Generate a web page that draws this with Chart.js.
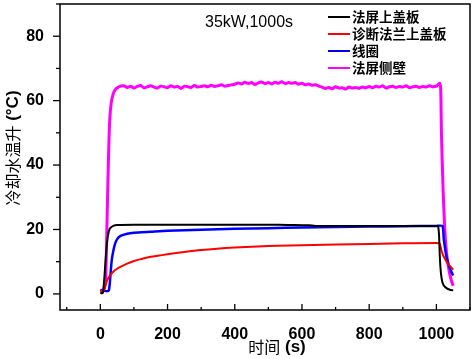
<!DOCTYPE html>
<html><head><meta charset="utf-8">
<script src="https://cdn.jsdelivr.net/npm/chart.js@4/dist/chart.umd.min.js"></script>
<style>html,body{margin:0;padding:0;background:#fff}#wrap{width:476px;height:359px}</style>
</head><body><div id="wrap"><canvas id="c" width="476" height="359"></canvas></div>
<script>
const seriesNames = ['法屏上盖板','诊断法兰上盖板','线圈','法屏侧壁'];
const seriesColors = ['#000000','#ff0000','#0000ff','#ff00ff'];
const xTickValues = [0,200,400,600,800,1000];
const yTickValues = [0,20,40,60,80];

const blackTime = [0,5,8,12,16,20,25,30,40,50,100,200,300,400,500,560,620,640,700,800,900,1000,1005,1008,1010,1013,1017,1022,1030,1040,1050];
const blackVal  = [0.3,0.2,0.5,5,11,16,19.3,20.5,21.2,21.4,21.5,21.5,21.5,21.5,21.5,21.4,21.3,21.1,21.1,21.1,21.1,21.1,21.1,18,12,7,4,2.6,1.8,1.3,1.1];

const redTime = [0,10,14,18,22,27,33,40,50,66,80,100,125,150,175,200,250,300,400,500,600,700,800,900,1000,1010,1015,1020,1025,1030,1040,1050];
const redVal  = [1.0,1.0,2.0,3.5,4.6,5.4,6.2,7.0,7.8,8.7,9.4,10.2,10.9,11.5,11.9,12.3,13.0,13.6,14.4,14.9,15.1,15.3,15.5,15.7,15.8,15.6,13.5,12,11,10,8.7,7.5];

const blueTime = [0,10,20,25,28,31,34,38,43,50,60,80,100,150,200,300,400,500,600,700,800,900,1000,1018,1022,1026,1030,1035,1040,1045,1050];
const blueVal  = [1.2,1.0,0.8,1,3,7,10.5,13,15.3,17,18,18.7,19.0,19.3,19.6,19.9,20.2,20.4,20.6,20.8,20.9,21.0,21.1,21.1,17,14,11.5,9.5,8,6.8,5.7];

const magTime = [0,5,8,12,16,19,22,25,28,32,38,45,55,
 70,80,90,100,110,120,130,140,150,160,170,180,190,200,210,220,230,240,250,260,270,280,290,300,
 310,320,330,340,350,360,370,380,390,
 400,410,420,430,440,450,460,470,480,490,500,510,520,530,540,550,560,570,
 580,590,600,610,620,630,640,650,
 660,670,680,690,700,710,720,730,740,750,760,770,780,790,
 800,810,820,830,840,850,860,870,880,890,900,910,920,930,940,950,960,970,980,990,1000,1010,
 1013,1015,1020,1025,1030,1035,1040,1045,1050];
const magVal = [0.8,0.8,1.0,2,5,18,32,45,54,59,62,63.5,64.3,
 64.6,64.1,64.5,63.9,64.4,64.7,64.0,64.3,64.6,64.2,63.9,64.5,64.3,64.0,64.6,64.2,64.4,63.8,64.5,64.3,64.1,64.7,64.2,64.4,
 64.6,64.3,64.8,64.4,64.6,64.9,64.5,64.7,64.9,
 65.1,65.5,65.2,65.7,65.3,65.6,65.0,65.5,65.8,65.3,65.6,65.2,65.7,65.4,65.9,65.3,65.6,65.4,
 65.6,65.1,65.4,64.9,65.2,64.8,64.9,64.5,
 64.2,63.8,64.1,63.7,64.3,63.9,64.0,63.6,64.2,63.9,64.1,63.8,64.2,64.0,
 64.4,64.0,64.5,64.2,64.6,63.9,64.3,64.5,64.1,64.4,64.2,64.6,64.0,64.3,64.5,64.1,64.4,64.2,64.6,64.3,64.5,65.4,
 63,50,32,20,13,9,6,4,2.5];

function pts(t,v){return t.map((x,i)=>({x:x,y:v[i]}));}

const CJK = '"Noto Sans CJK SC", sans-serif';
const LAT = '"Liberation Sans", Arial, sans-serif';

const framePlugin = {
  id:'frame',
  afterDraw(chart){
    const ctx = chart.ctx, a = chart.chartArea;
    const xs = chart.scales.x, ys = chart.scales.y;
    ctx.save();
    ctx.strokeStyle = '#000'; ctx.lineWidth = 1.5;
    ctx.strokeRect(a.left, a.top, a.right-a.left, a.bottom-a.top);
    ctx.lineWidth = 1.3;
    for (let v=-100; v<=1100; v+=100){
      const px = xs.getPixelForValue(v);
      if (px < a.left || px > a.right) continue;
      const len = (v % 200 === 0) ? 6 : 3;
      ctx.beginPath(); ctx.moveTo(px, a.bottom); ctx.lineTo(px, a.bottom-len); ctx.stroke();
    }
    for (let v=0; v<=90; v+=10){
      const py = ys.getPixelForValue(v);
      const len = (v % 20 === 0) ? 7 : 4;
      ctx.beginPath(); ctx.moveTo(a.left, py); ctx.lineTo(a.left-len, py); ctx.stroke();
    }
    ctx.fillStyle = '#000';
    ctx.font = '16px ' + LAT;
    ctx.textBaseline = 'middle'; ctx.textAlign = 'left';
    ctx.fillText('35kW,1000s', 205, 23);
    chart.data.datasets.forEach((ds,i)=>{
      const y = 17 + i*17;
      ctx.strokeStyle = ds.borderColor; ctx.lineWidth = 2;
      ctx.beginPath(); ctx.moveTo(328, y); ctx.lineTo(350, y); ctx.stroke();
      ctx.fillStyle = '#000';
      ctx.font = 'bold 13.5px ' + CJK;
      ctx.fillText(ds.label, 352, y);
    });
    ctx.font = '16px ' + CJK;
    let w1 = ctx.measureText('时间').width;
    ctx.font = 'bold 17px ' + LAT;
    let w2 = ctx.measureText(' (s)').width;
    let sx = 277 - (w1+w2)/2;
    ctx.font = '16px ' + CJK;
    ctx.fillText('时间', sx, 347);
    ctx.font = 'bold 17px ' + LAT;
    ctx.fillText(' (s)', sx+w1, 347);
    ctx.translate(13, 148);
    ctx.rotate(-Math.PI/2);
    ctx.font = '16px ' + CJK;
    w1 = ctx.measureText('冷却水温升').width;
    ctx.font = 'bold 17px ' + LAT;
    w2 = ctx.measureText(' (°C)').width;
    sx = -(w1+w2)/2;
    ctx.font = '16px ' + CJK;
    ctx.fillText('冷却水温升', sx, 0);
    ctx.font = 'bold 17px ' + LAT;
    ctx.fillText(' (°C)', sx+w1, 0);
    ctx.restore();
  }
};

const tickFont = {family:LAT, size:16, weight:'bold'};

new Chart(document.getElementById('c'), {
  type:'line',
  data:{datasets:[
    {label:seriesNames[0], data:pts(blackTime,blackVal), borderColor:seriesColors[0], borderWidth:2},
    {label:seriesNames[1], data:pts(redTime,redVal), borderColor:seriesColors[1], borderWidth:2, cubicInterpolationMode:'monotone'},
    {label:seriesNames[2], data:pts(blueTime,blueVal), borderColor:seriesColors[2], borderWidth:2.5},
    {label:seriesNames[3], data:pts(magTime,magVal), borderColor:seriesColors[3], borderWidth:3}
  ]},
  options:{
    responsive:false, animation:false, devicePixelRatio:1,
    elements:{point:{radius:0}, line:{tension:0.2, borderJoinStyle:'round'}},
    layout:{padding:{top:4,right:6,left:0,bottom:0}},
    plugins:{legend:{display:false}, tooltip:{enabled:false}},
    scales:{
      x:{type:'linear', min:-120, max:1100,
        grid:{display:false}, border:{display:false},
        afterBuildTicks:(s)=>{s.ticks = xTickValues.map(v=>({value:v}));},
        afterFit:(s)=>{s.height = 49; s.paddingLeft = 0; s.paddingRight = 0;},
        ticks:{font:tickFont, color:'#000', padding:7, maxRotation:0, autoSkip:false, callback:(v)=>String(v)}},
      y:{type:'linear', min:-5, max:90,
        grid:{display:false}, border:{display:false},
        afterBuildTicks:(s)=>{s.ticks = yTickValues.map(v=>({value:v}));},
        afterFit:(s)=>{s.width = 60; s.paddingTop = 0; s.paddingBottom = 0;},
        ticks:{font:tickFont, color:'#000', padding:8, callback:(v)=>String(v)}}
    }
  },
  plugins:[framePlugin]
});
</script></body></html>
